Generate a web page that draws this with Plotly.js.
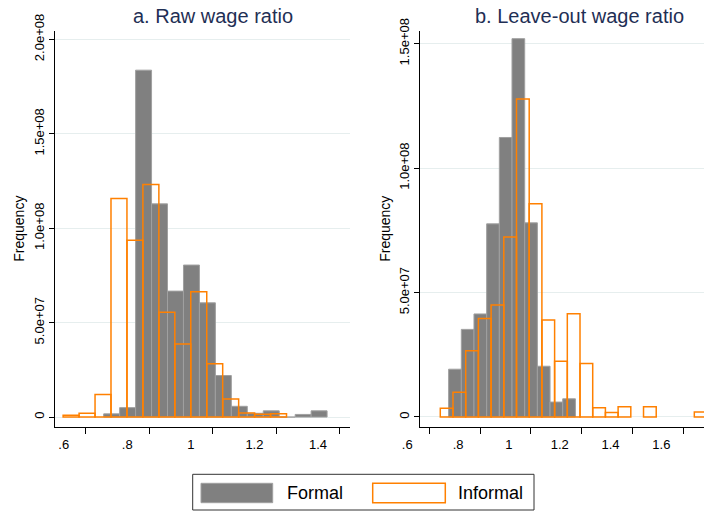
<!DOCTYPE html>
<html>
<head>
<meta charset="utf-8">
<script src="https://cdn.plot.ly/plotly-3.0.1.min.js"></script>
<style>html,body{margin:0;padding:0;background:#fff;}#chart{width:704px;height:513px;}</style>
</head>
<body>
<div id="chart"></div>
<script>
// ---- Data ----
// Panel a: Raw wage ratio
const rawFormalCenters   = [0.6817, 0.7319, 0.7821, 0.8323, 0.8825, 0.9327, 0.9829, 1.0331, 1.0833, 1.1335, 1.1837, 1.2339, 1.2841, 1.3343];
const rawFormalFreq      = [1.7e6, 5.0e6, 1.837e8, 1.129e8, 6.67e7, 8.05e7, 6.05e7, 2.2e7, 5.7e6, 2.0e6, 3.3e6, 0, 1.4e6, 3.3e6];
const rawInformalCenters = [0.5541, 0.6043, 0.6545, 0.7047, 0.7549, 0.8051, 0.8553, 0.9055, 0.9557, 1.0059, 1.0561, 1.1063, 1.1565, 1.2067];
const rawInformalFreq    = [1.0e6, 2.0e6, 1.2e7, 1.157e8, 9.36e7, 1.231e8, 5.55e7, 3.87e7, 6.63e7, 2.82e7, 9.6e6, 2.1e6, 1.5e6, 1.7e6];
const rawBinWidth = 0.0502;

// Panel b: Leave-out wage ratio
const looFormalCenters   = [0.7011, 0.7510, 0.8009, 0.8508, 0.9007, 0.9506, 1.0005, 1.0504, 1.1003, 1.1502];
const looFormalFreq      = [1.92e7, 3.52e7, 4.14e7, 7.76e7, 1.123e8, 1.52e8, 7.8e7, 2.04e7, 6.0e6, 7.3e6];
const looInformalCenters = [0.6683, 0.7183, 0.7683, 0.8183, 0.8683, 0.9183, 0.9683, 1.0183, 1.0683, 1.1183, 1.1683, 1.2183, 1.2683, 1.3183, 1.3683, 1.4683, 1.6683];
const looInformalFreq    = [3.5e6, 9.9e6, 2.66e7, 3.96e7, 4.5e7, 7.23e7, 1.278e8, 8.57e7, 3.9e7, 2.24e7, 4.15e7, 2.15e7, 3.7e6, 1.8e6, 4.1e6, 4.1e6, 2.0e6];
const looBinWidth = 0.05;

// Tick labels
const rawXTicks = [0.6, 0.8, 1, 1.2, 1.4];
const rawXText  = ['.6', '.8', '1', '1.2', '1.4'];
const rawYTicks = [0, 5e7, 1e8, 1.5e8, 2e8];
const rawYText  = ['0', '5.0e+07', '1.0e+08', '1.5e+08', '2.0e+08'];
const looXTicks = [0.6, 0.8, 1, 1.2, 1.4, 1.6];
const looXText  = ['.6', '.8', '1', '1.2', '1.4', '1.6'];
const looYTicks = [0, 5e7, 1e8, 1.5e8];
const looYText  = ['0', '5.0e+07', '1.0e+08', '1.5e+08'];

const panelTitles = ['a. Raw wage ratio', 'b. Leave-out wage ratio'];
const seriesNames = ['Formal', 'Informal'];

// ---- Styling ----
const W = 704, H = 513;
const FONT = 'Liberation Sans, Arial, Helvetica, sans-serif';
const GRAY = '#808080', GRAY_LINE = '#a0a0a0', ORANGE = '#ff8000';
const GRID = '#e6eeee', TITLE_COLOR = '#1f2f55';
const px = x => x / W;
const py = y => 1 - y / H;

function formalTrace(x, y, w, xa, ya) {
  return {type: 'bar', x: x, y: y, width: w, xaxis: xa, yaxis: ya, name: seriesNames[0], showlegend: false,
    marker: {color: GRAY, line: {color: GRAY_LINE, width: 1}}, hoverinfo: 'skip'};
}
function informalTrace(x, y, w, xa, ya) {
  return {type: 'bar', x: x, y: y, width: w, xaxis: xa, yaxis: ya, name: seriesNames[1], showlegend: false,
    marker: {color: 'rgba(0,0,0,0)', line: {color: ORANGE, width: 1.5}}, hoverinfo: 'skip'};
}

const data = [
  formalTrace(rawFormalCenters, rawFormalFreq, rawBinWidth, 'x', 'y'),
  informalTrace(rawInformalCenters, rawInformalFreq, rawBinWidth, 'x', 'y'),
  formalTrace(looFormalCenters, looFormalFreq, looBinWidth, 'x2', 'y2'),
  informalTrace(looInformalCenters, looInformalFreq, looBinWidth, 'x2', 'y2')
];

function xAxis(domain, range, tv, tt, anchor) {
  return {domain: domain, range: range, anchor: anchor, tickvals: tv, ticktext: tt,
    showline: true, linecolor: '#000', linewidth: 1, ticks: 'outside', ticklen: 6, tickcolor: '#000',
    ticklabelshift: -22,
    showgrid: false, zeroline: false, tickfont: {family: FONT, size: 13, color: '#000'}, fixedrange: true};
}
function yAxis(domain, range, tv, tt, anchor) {
  return {domain: domain, range: range, anchor: anchor, tickvals: tv, ticktext: tt, tickangle: -90,
    showline: true, linecolor: '#000', linewidth: 1, ticks: 'outside', ticklen: 5, tickcolor: '#000',
    showgrid: true, gridcolor: GRID, gridwidth: 1, zeroline: false,
    tickfont: {family: FONT, size: 13, color: '#000'}, fixedrange: true,
    title: {text: 'Frequency', font: {family: FONT, size: 14, color: '#000'}, standoff: 3}};
}

const yDom = [py(426.7), py(30.7)];

const legendShapes = [
  {type: 'rect', xref: 'paper', yref: 'paper', x0: px(192.7), x1: px(534), y0: py(510), y1: py(474.3),
   line: {color: '#333', width: 1}, fillcolor: 'rgba(0,0,0,0)'},
  {type: 'rect', xref: 'paper', yref: 'paper', x0: px(201), x1: px(272.7), y0: py(502.7), y1: py(483.3),
   line: {color: GRAY_LINE, width: 1}, fillcolor: GRAY},
  {type: 'rect', xref: 'paper', yref: 'paper', x0: px(372.7), x1: px(445.3), y0: py(502.7), y1: py(483.3),
   line: {color: ORANGE, width: 1.5}, fillcolor: 'rgba(0,0,0,0)'}
];

const annotations = [
  {text: panelTitles[0], xref: 'paper', yref: 'paper', x: px(213), y: py(16), xanchor: 'center', yanchor: 'middle',
   showarrow: false, font: {family: FONT, size: 20, color: TITLE_COLOR}},
  {text: panelTitles[1], xref: 'paper', yref: 'paper', x: px(579), y: py(16), xanchor: 'center', yanchor: 'middle',
   showarrow: false, font: {family: FONT, size: 20, color: TITLE_COLOR}},
  {text: seriesNames[0], xref: 'paper', yref: 'paper', x: px(285), y: py(493), xanchor: 'left', yanchor: 'middle',
   showarrow: false, font: {family: FONT, size: 18, color: '#000'}},
  {text: seriesNames[1], xref: 'paper', yref: 'paper', x: px(455.5), y: py(493), xanchor: 'left', yanchor: 'middle',
   showarrow: false, font: {family: FONT, size: 18, color: '#000'}}
];

const layout = {
  width: W, height: H, autosize: false,
  margin: {l: 0, r: 0, t: 0, b: 0, pad: 0},
  paper_bgcolor: '#fff', plot_bgcolor: '#fff',
  barmode: 'overlay', bargap: 0, showlegend: false,
  xaxis: xAxis([px(54.7), px(350)], [0.5025, 1.4315], rawXTicks, rawXText, 'y'),
  yaxis: yAxis(yDom, [-5.1e6, 2.046e8], rawYTicks, rawYText, 'x'),
  xaxis2: xAxis([px(420.3), 1], [0.5646, 1.6814], looXTicks, looXText, 'y2'),
  yaxis2: yAxis(yDom, [-3.9e6, 1.552e8], looYTicks, looYText, 'x2'),
  shapes: legendShapes,
  annotations: annotations
};

Plotly.newPlot('chart', data, layout, {staticPlot: true, displayModeBar: false});
</script>
</body>
</html>
